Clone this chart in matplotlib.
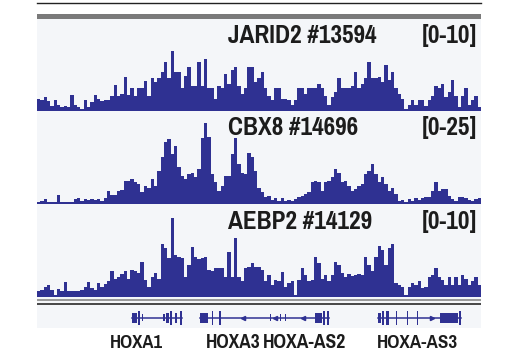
import matplotlib
matplotlib.use("Agg")
import matplotlib.pyplot as plt
from matplotlib import font_manager as fm
from matplotlib.textpath import TextPath
import numpy as np

# ChIP-seq signal per bin across the HOXA region (left to right)
jarid2 = [1.4, 1.2, 1.6, 1.1, 0.6, 1.2, 0.7, 0.5, 0.6, 0.5, 1.8, 0.7, 0.5, 0.3, 1.2, 0.5,
          1.0, 1.8, 1.4, 1.1, 1.2, 1.2, 1.7, 2.9, 1.7, 1.9, 3.7, 1.8, 2.5, 1.7, 2.5, 2.5,
          3.3, 1.7, 3.6, 3.2, 3.6, 4.3, 5.4, 3.6, 6.6, 4.3, 4.3, 2.6, 3.9, 4.8, 2.8, 2.8,
          5.4, 2.8, 5.7, 2.6, 2.5, 1.4, 2.8, 2.5, 4.1, 3.0, 4.5, 4.8, 2.8, 1.9, 2.5, 4.8,
          4.8, 3.2, 3.6,
          4.3, 2.5, 1.7, 1.3, 2.5, 2.5, 1.4, 1.4, 1.2, 0.7, 1.2, 2.5, 2.5, 1.9, 2.5, 2.5,
          2.5, 3.0, 2.6, 1.7, 0.7, 1.6, 2.1, 3.6, 2.5, 2.5, 2.5, 2.8, 4.3, 2.5, 3.0, 3.6,
          5.4, 3.6, 3.6, 3.7, 3.2, 5.0, 3.4, 4.3, 2.5, 1.9, 1.4, 0.3, 0.7, 1.3, 0.7, 1.3,
          1.3, 0.6, 1.2, 1.7, 2.8, 2.5, 3.0, 1.6, 2.1, 3.4, 1.7, 0.5, 1.7, 2.5, 0.7, 1.2,
          1.7, 0.5]
cbx8 = [0.6, 0.9, 1.3, 0.7, 0.5, 0.5, 2.5, 0.6, 0.5, 0.6, 0.7, 1.4, 1.6, 0.9, 1.5, 1.1,
        1.3, 1.1, 1.5, 0.9, 1.6, 3.5, 2.5, 2.5, 3.6, 3.8, 6.3, 6.2, 6.8, 5.9, 5.4, 3.2,
        5.0, 4.5, 6.8, 5.0, 9.0, 12.7, 16.8, 17.7, 13.6, 15.8, 10.0, 7.7, 6.8, 8.2, 8.6, 7.3,
        9.5, 18.1, 22.2, 18.3, 8.3, 5.9, 3.6, 5.0, 7.7, 7.7, 13.6, 18.1, 10.9, 8.6, 8.2, 14.0,
        12.7, 9.0, 4.5,
        3.2, 2.0, 2.3, 1.1, 1.8, 0.9, 1.6, 0.9, 1.1, 0.9, 1.4, 2.0, 2.3, 2.9, 3.2, 5.9,
        6.3, 5.9, 3.6, 5.9, 6.3, 7.3, 9.5, 8.4, 5.9, 6.3, 5.0, 3.6, 4.1, 5.0, 5.4, 8.2,
        9.0, 10.9, 8.2, 5.9, 7.3, 5.4, 3.6, 4.5, 2.7, 0.9, 1.1, 0.7, 1.4, 0.9, 1.6, 1.1,
        1.8, 2.0, 2.0, 3.6, 5.9, 3.6, 4.1, 4.1, 2.3, 1.4, 0.9, 2.0, 2.0, 1.6, 1.1, 0.9,
        1.4, 1.6]
aebp2 = [0.6, 0.8, 1.1, 1.3, 0.8, 0.2, 0.9, 0.6, 1.6, 0.6, 0.6, 0.6, 0.6, 0.8, 1.1, 1.6,
         1.0, 0.8, 1.5, 1.1, 1.4, 1.7, 2.8, 2.0, 2.2, 2.5, 2.8, 2.0, 2.9, 2.8, 2.6, 3.8,
         1.8, 1.1, 2.2, 2.6, 2.0, 5.8, 5.3, 4.2, 8.6, 4.6, 4.4, 4.2, 2.2, 3.5, 5.4, 4.4,
         4.1, 4.2, 4.4, 2.9, 2.8, 3.2, 3.1, 3.2, 2.2, 4.9, 2.2, 6.4, 2.2, 1.7, 3.1, 3.3,
         3.7, 3.3, 3.3,
         2.9, 1.7, 2.4, 1.3, 1.8, 1.7, 2.7, 1.1, 1.5, 1.7, 0.2, 1.8, 3.1, 2.4, 1.7, 1.8,
         4.4, 3.7, 2.0, 2.4, 1.7, 2.4, 3.8, 3.5, 2.6, 2.2, 2.5, 2.3, 2.4, 2.5, 2.4, 4.4,
         3.5, 2.8, 4.4, 5.5, 5.1, 3.5, 5.3, 5.8, 1.5, 1.3, 1.1, 0.2, 1.1, 1.5, 1.3, 1.7,
         1.0, 1.1, 2.2, 2.4, 3.1, 2.2, 1.8, 1.3, 2.2, 1.3, 2.2, 1.3, 2.4, 2.0, 1.3, 1.7,
         2.2, 1.3]

tracks = [("JARID2 #13594", jarid2, 10), ("CBX8 #14696", cbx8, 25), ("AEBP2 #14129", aebp2, 10)]

# gene models (kb from left edge of the 44.4 kb window)
region_kb = 44.4
genes = {
    "HOXA1": (9.5, 14.47),
    "HOXA3": (16.3, 29.17),
    "HOXA-AS3": (34.13, 42.4),
}
exons = [
    (9.47, 10.03, "m"), (10.13, 10.30, "t"), (10.53, 10.63, "s"), (12.63, 12.80, "s"),
    (12.90, 13.23, "m"), (13.30, 13.47, "t"), (13.80, 14.03, "m"), (14.30, 14.47, "t"),
    (16.30, 17.13, "m"), (17.47, 17.63, "t"), (18.23, 18.37, "t"), (23.30, 23.40, "s"),
    (24.30, 24.40, "s"), (24.80, 24.90, "s"), (27.80, 28.47, "m"), (28.63, 28.80, "t"),
    (28.97, 29.17, "t"),
    (34.13, 34.40, "m"), (34.47, 34.70, "t"), (34.90, 35.20, "t"), (35.90, 36.00, "t"),
    (36.97, 37.07, "t"), (37.97, 38.07, "t"), (40.30, 42.13, "m"), (42.23, 42.40, "t"),
]
arrows_left = [20.63, 23.8, 26.6]
arrows_right = [39.47]
gene_labels = ["HOXA1", "HOXA3", "HOXA-AS2", "HOXA-AS3"]
gene_label_kb = [9.97, 19.6, 26.8, 38.05]

blue = "#2f3192"
ink = "#1c1c1c"
W, H = 520, 350
X0, XW = 37, 444


def shape(fp, s):
    ext = TextPath((0, 0), s, size=1, prop=fp).get_extents()
    return ext.width, TextPath((0, 0), "H", size=1, prop=fp).get_extents().height


# pick the installed bold face whose proportions best match the condensed label font
def pick_font(sample="JARID2 #13594", target=147 / 17.3):
    cands = [fm.FontProperties(family="DejaVu Sans", weight="bold")]
    for f in fm.fontManager.ttflist:
        p = f.fname.lower()
        if ("narrow" in p or "condensed" in p) and "bold" in p and "semibold" not in p \
                and "extrabold" not in p and "italic" not in p and "oblique" not in p:
            cands.append(fm.FontProperties(fname=f.fname))
    best, err = cands[0], 1e9
    for fp in cands:
        try:
            w, c = shape(fp, sample)
        except Exception:
            continue
        e = abs(w / c - target)
        if e < err:
            best, err = fp, e
    return best


FP = pick_font()

fig = plt.figure(figsize=(W / 100, H / 100), dpi=100)

# background layer in pixel units
bg = fig.add_axes([0, 0, 1, 1])
bg.set_xlim(0, W)
bg.set_ylim(H, 0)
bg.axis("off")
bg.add_patch(plt.Rectangle((X0, 18), XW, 310, color="#f4f6f9", lw=0))
bg.plot([X0, X0 + XW], [2.8, 2.8], color="#222222", lw=1.0)
bg.add_patch(plt.Rectangle((X0, 14), XW, 4.5, color="#7a7a7a", lw=0))
bg.add_patch(plt.Rectangle((X0, 298.5), XW, 2, color="#9a9a9a", lw=0))
bg.add_patch(plt.Rectangle((X0, 303.3), XW, 2, color="#4a4a4a", lw=0))


def put(s, x, y, ha, width, cap):
    w, c = shape(FP, s)
    size = cap / c * 0.72
    if w * size / 0.72 > width * 1.06:
        size = width * 1.06 / w * 0.72
    return bg.text(x, y, s, fontproperties=FP, fontsize=size, color=ink, ha=ha, va="baseline")


def px_axes(top, bottom):
    return fig.add_axes([X0 / W, 1 - bottom / H, XW / W, (bottom - top) / H])


label_y = [43.3, 135.3, 229.3]
name_w = [147, 128, 141]
bottoms = [111.5, 204.2, 297.0]
for (name, vals, rng), b, ly, nw in zip(tracks, bottoms, label_y, name_w):
    ax = px_axes(b - 92, b)
    ax.patch.set_alpha(0)
    edges = np.linspace(0, region_kb, len(vals) + 1)
    ax.stairs(vals, edges, fill=True, color=blue, lw=0)
    ax.axhline(0, color=blue, lw=1.6)
    ax.set_xlim(0, region_kb)
    ax.set_ylim(0, rng)
    ax.axis("off")
    put(name, 228, ly, "left", nw, 17.3)
    put(f"[0-{rng}]", 477.5, ly, "right", 57, 17.3)

# gene track
gx = px_axes(307, 328)
gx.patch.set_alpha(0)
gx.set_xlim(0, region_kb)
gx.set_ylim(-10.5, 10.5)
gx.axis("off")
half = {"s": 3.5, "m": 5.0, "t": 7.0}
for s, e in genes.values():
    gx.plot([s, e], [0, 0], color=blue, lw=1.1)
for s, e, k in exons:
    gx.add_patch(plt.Rectangle((s, -half[k]), e - s, 2 * half[k], color=blue, lw=0))
gx.plot(arrows_left, [0] * len(arrows_left), ls="none", marker="<", ms=3, color=blue)
gx.plot(arrows_right, [0] * len(arrows_right), ls="none", marker=">", ms=3, color=blue)

label_w = [49, 50, 77, 75]
for lab, k, lw_ in zip(gene_labels, gene_label_kb, label_w):
    put(lab, X0 + k / region_kb * XW, 347.5, "center", lw_, 14)

fig.savefig("out.png", dpi=100)
